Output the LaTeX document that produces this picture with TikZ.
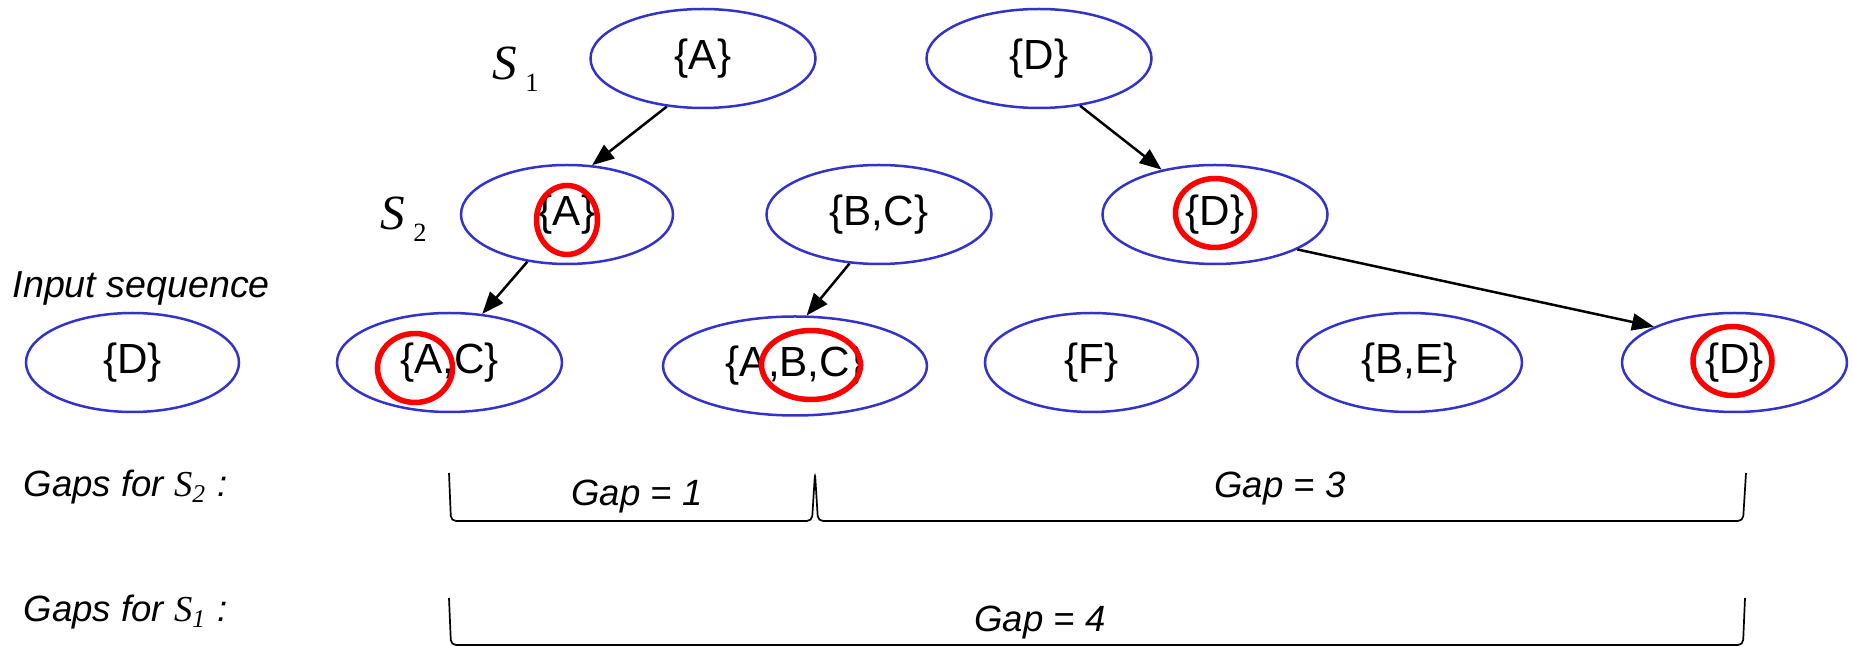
\documentclass[tikz,border=0pt]{standalone}
\usepackage{fontspec}
\setmainfont{Liberation Sans}
\newfontfamily\tms{Liberation Serif}
\usetikzlibrary{shapes.geometric,arrows.meta}
\definecolor{setblue}{RGB}{51,51,204}

\begin{document}
\begin{tikzpicture}[font=\fontsize{12}{14}\selectfont,
    itemset/.style={ellipse, draw=setblue, line width=0.025cm, inner sep=0pt, minimum width=2.25cm, minimum height=0.99cm},
    ring/.style={red, line width=0.055cm},
    link/.style={-{Triangle[length=0.22cm,width=0.17cm]}, line width=0.025cm},
    gapline/.style={line width=0.017cm, rounded corners=0.05cm},
    lbl/.style={font=\fontsize{10.4}{12}\selectfont\itshape, inner sep=0pt},
    seqlbl/.style={font=\fontsize{14}{16}\selectfont\tms\itshape, inner sep=0pt}]
  \useasboundingbox (0,0) rectangle (18.52,-6.47);
  % the two sequences
  \node[itemset] (topA) at (7.03,-0.585) {\{A\}};
  \node[itemset] (topD) at (10.39,-0.585) {\{D\}};
  \node[itemset, minimum width=2.12cm] (midA) at (5.67,-2.145) {\{A\}};
  \node[itemset] (midBC) at (8.79,-2.145) {\{B,C\}};
  \node[itemset] (midD) at (12.15,-2.145) {\{D\}};
  \node[seqlbl, anchor=base west] (s1lbl) at (4.92,-0.80) {S\hspace{0.08cm}\raisebox{-0.12cm}{\upshape\fontsize{7.5}{9}\selectfont 1}};
  \node[seqlbl, anchor=base west] (s2lbl) at (3.80,-2.30) {S\hspace{0.08cm}\raisebox{-0.12cm}{\upshape\fontsize{7.5}{9}\selectfont 2}};
  % input sequence
  \node[lbl, anchor=base west, font=\fontsize{10.7}{12}\selectfont\itshape] (inlbl) at (0.12,-2.98) {Input sequence};
  \node[itemset, minimum width=2.13cm] (inD) at (1.325,-3.625) {\{D\}};
  \node[itemset] (inAC) at (4.495,-3.625) {\{A,C\}};
  \node[itemset, minimum width=2.64cm] (inABC) at (7.95,-3.66) {\{A,B,C\}};
  \node[itemset, minimum width=2.13cm] (inF) at (10.915,-3.625) {\{F\}};
  \node[itemset] (inBE) at (14.095,-3.625) {\{B,E\}};
  \node[itemset] (inD2) at (17.345,-3.625) {\{D\}};
  % matched items
  \draw[ring] ([yshift=-0.055cm]midA.center) ellipse [x radius=0.305, y radius=0.345];
  \draw[ring] ([yshift=0.015cm]midD.center) ellipse [x radius=0.395, y radius=0.345];
  \draw[ring] ([xshift=-0.345cm,yshift=-0.055cm]inAC.center) ellipse [x radius=0.375, y radius=0.345];
  \draw[ring] ([xshift=0.16cm,yshift=0.01cm]inABC.center) ellipse [x radius=0.495, y radius=0.345];
  \draw[ring] ([xshift=-0.02cm,yshift=0.015cm]inD2.center) ellipse [x radius=0.395, y radius=0.345];
  % links
  \draw[link] (topA.233) -- (midA.63);
  \draw[link] (midA.230) -- (inAC.56);
  \draw[link] (midBC.239) -- (inABC.77);
  \draw[link] (topD.311) -- (midD.140);
  \draw[link] (midD.337) -- (inD2.156);
  % gaps
  \node[lbl, anchor=base west] (gap2lbl) at (0.23,-4.97) {Gaps for {\tms S}\textsubscript{\tms 2} :};
  \draw[gapline] (4.49,-4.73) -- (4.51,-5.21) -- (8.12,-5.21) -- (8.15,-4.73) -- (8.18,-5.21) -- (17.43,-5.21) -- (17.46,-4.73);
  \node[lbl, anchor=base] (gapone) at (6.37,-5.06) {Gap = 1};
  \node[lbl, anchor=base] (gapthree) at (12.80,-4.98) {Gap = 3};
  \node[lbl, anchor=base west] (gap1lbl) at (0.23,-6.22) {Gaps for {\tms S}\textsubscript{\tms 1} :};
  \draw[gapline] (4.49,-5.98) -- (4.51,-6.45) -- (17.43,-6.45) -- (17.45,-5.98);
  \node[lbl, anchor=base] (gapfour) at (10.40,-6.32) {Gap = 4};
\end{tikzpicture}
\end{document}
